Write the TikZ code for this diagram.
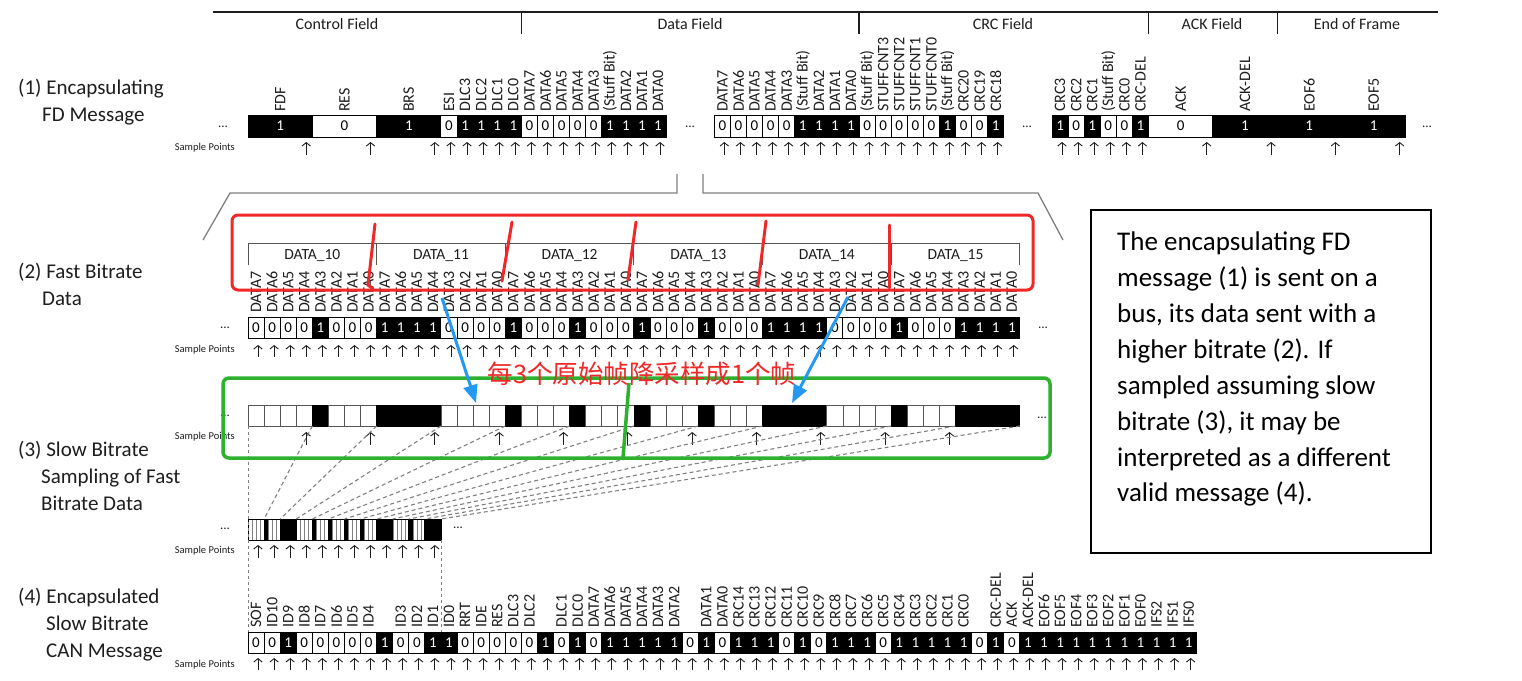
\documentclass[tikz,border=0pt]{standalone}
\usepackage{fontspec}
\setmainfont{Carlito}
\newfontfamily\cjkfont{Noto Sans CJK SC}
\usetikzlibrary{arrows.meta}
\definecolor{redm}{HTML}{F02828}
\definecolor{greenm}{HTML}{2EB12E}
\definecolor{bluem}{HTML}{2399F2}
\definecolor{graym}{HTML}{808080}
\definecolor{inkm}{HTML}{1E1E1E}
\definecolor{cellg}{HTML}{555555}
\tikzset{
  bitcell/.style={draw=black,line width=1pt,inner sep=0pt,outer sep=0pt,anchor=north west,font=\fontsize{15}{15}\selectfont},
  bit0/.style={fill=white,text=black},
  bit1/.style={fill=black,text=white},
  slowcell/.style={line width=0.8pt,inner sep=0pt,outer sep=0pt,anchor=north west,minimum width=16.08pt,minimum height=21pt},
  slow0/.style={fill=white,draw=cellg},
  slow1/.style={fill=black,draw=black},
  sub0/.style={fill=white,draw=graym,line width=0.4pt},
  sub1/.style={fill=black},
  minicell/.style={draw=black,line width=0.9pt,inner sep=0pt,outer sep=0pt,anchor=north west,minimum width=16.08pt,minimum height=21pt},
  vlabel/.style={rotate=90,anchor=west,inner sep=0pt,font=\fontsize{16}{16}\selectfont,text=inkm},
  samp/.style={draw=inkm,line width=0.9pt,-{Straight Barb[length=3.5pt,width=8.5pt]}},
  dots/.style={font=\fontsize{13}{13}\selectfont,text=inkm,inner sep=0pt},
  splabel/.style={font=\fontsize{10.5}{10.5}\selectfont,text=inkm,anchor=east,inner sep=0pt},
  sidelabel/.style={font=\fontsize{21}{21}\selectfont,text=inkm,anchor=base west,inner sep=0pt},
  boxline/.style={font=\fontsize{27}{27}\selectfont,text=black,anchor=base west,inner sep=0pt},
  hdr/.style={font=\fontsize{16}{16}\selectfont,text=inkm,inner sep=0pt},
  bytehdr/.style={font=\fontsize{15.5}{15.5}\selectfont,text=inkm,inner sep=0pt},
  dashlink/.style={draw=graym,line width=1.1pt,dash pattern=on 4pt off 3pt},
  vdash/.style={draw=graym,line width=0.8pt,dash pattern=on 3pt off 3pt},
  zoomline/.style={draw=graym,line width=1.3pt},
  redmark/.style={draw=redm,line width=3pt,line cap=round,line join=round},
  greenmark/.style={draw=greenm,line width=3.5pt},
  bluearrow/.style={draw=bluem,line width=3pt,-{Triangle[length=18pt,width=14pt]}}
}
\begin{document}
\begin{tikzpicture}[x=1pt,y=-1pt]
\useasboundingbox (0,0) rectangle (1522,680);
\fill[white] (0,0) rectangle (1522,680);

% ---------- header ----------
\draw[line width=1.2pt,draw=inkm] (213,12) -- (1438,12);
\foreach \u in {17,38,56,64} \draw[line width=1.2pt,draw=inkm] (248+\u*16.08,12) -- (248+\u*16.08,34);
\node[hdr] (hf1) at (337,24) {Control Field};
\node[hdr] (hf2) at (690,24) {Data Field};
\node[hdr] (hf3) at (1003,24) {CRC Field};
\node[hdr] (hf4) at (1212,24) {ACK Field};
\node[hdr] (hf5) at (1357,24) {End of Frame};

% ---------- side labels ----------
\node[sidelabel] (s1a) at (18,94.5) {(1) Encapsulating};
\node[sidelabel] (s1b) at (42,121.5) {FD Message};
\node[sidelabel] (s2a) at (18,278.5) {(2) Fast Bitrate};
\node[sidelabel] (s2b) at (42,305.5) {Data};
\node[sidelabel] (s3a) at (18,456.5) {(3) Slow Bitrate};
\node[sidelabel] (s3b) at (41,483.5) {Sampling of Fast};
\node[sidelabel] (s3c) at (41,510.5) {Bitrate Data};
\node[sidelabel] (s4a) at (18,603.5) {(4) Encapsulated};
\node[sidelabel] (s4b) at (46,630.5) {Slow Bitrate};
\node[sidelabel] (s4c) at (46,657.5) {CAN Message};

\node[splabel] (sp1) at (235,148) {Sample Points};
\node[splabel] (sp2) at (235,350) {Sample Points};
\node[splabel] (sp3) at (235,437) {Sample Points};
\node[splabel] (sp4) at (235,551) {Sample Points};
\node[splabel] (sp5) at (235,665) {Sample Points};

% ---------- row 1 ----------
\foreach \st/\wu/\bv/\lab [count=\i] in {0/4/1/FDF,4/4/0/RES,8/4/1/BRS,12/1/0/ESI,13/1/1/DLC3,14/1/1/DLC2,15/1/1/DLC1,16/1/1/DLC0,17/1/0/DATA7,18/1/0/DATA6,19/1/0/DATA5,20/1/0/DATA4,21/1/0/DATA3,22/1/1/{(Stuff Bit)},23/1/1/DATA2,24/1/1/DATA1,25/1/1/DATA0,29/1/0/DATA7,30/1/0/DATA6,31/1/0/DATA5,32/1/0/DATA4,33/1/0/DATA3,34/1/1/{(Stuff Bit)},35/1/1/DATA2,36/1/1/DATA1,37/1/1/DATA0,38/1/0/{(Stuff Bit)},39/1/0/STUFFCNT3,40/1/0/STUFFCNT2,41/1/0/STUFFCNT1,42/1/0/STUFFCNT0,43/1/1/{(Stuff Bit)},44/1/0/CRC20,45/1/0/CRC19,46/1/1/CRC18,50/1/1/CRC3,51/1/0/CRC2,52/1/1/CRC1,53/1/0/{(Stuff Bit)},54/1/0/CRC0,55/1/1/CRC-DEL,56/4/0/ACK,60/4/1/ACK-DEL,64/4/1/EOF6,68/4/1/EOF5}{
  \pgfmathsetmacro\xa{248+\st*16.08}
  \pgfmathsetmacro\cw{\wu*16.08}
  \pgfmathsetmacro\xc{\xa+\cw/2}
  \pgfmathsetmacro\xr{\xa+\cw-6.1}
  \node[bitcell,bit\bv,minimum width=\cw pt,minimum height=22pt] (ra\i) at (\xa,115) {\bv};
  \node[vlabel] (la\i) at (\xc,112) {\lab};
  \draw[samp] (\xr,155) -- (\xr,142);
}
\node[dots] (d1) at (223,127) {...};
\node[dots] (d2) at (690,127) {...};
\node[dots] (d3) at (1027,127) {...};
\node[dots] (d4) at (1427,127) {...};

% ---------- zoom bracket ----------
\draw[zoomline] (203,240) -- (230,193) -- (677,193) -- (677,174);
\draw[zoomline] (703,174) -- (703,193) -- (1038,193) -- (1063,240);

% ---------- row 2 ----------
\foreach \k/\nm in {0/DATA\_10,1/DATA\_11,2/DATA\_12,3/DATA\_13,4/DATA\_14,5/DATA\_15}{
  \node[bytehdr] (bh\k) at (248+\k*128.64+64.32,256) {\nm};
}
\draw[line width=1pt,draw=cellg] (248,265) -- (248,243) -- (1019.8,243) -- (1019.8,265);
\foreach \k in {1,...,5} \draw[line width=1pt,draw=cellg] (248+\k*128.64,243) -- (248+\k*128.64,265);
\foreach \bv [count=\i from 0] in {0,0,0,0,1,0,0,0,1,1,1,1,0,0,0,0,1,0,0,0,1,0,0,0,1,0,0,0,1,0,0,0,1,1,1,1,0,0,0,0,1,0,0,0,1,1,1,1}{
  \pgfmathsetmacro\xa{248+\i*16.08}
  \pgfmathtruncatemacro\dn{7-mod(\i,8)}
  \node[bitcell,bit\bv,minimum width=16.08pt,minimum height=21pt] (rb\i) at (\xa,317) {\bv};
  \node[vlabel] (lb\i) at (\xa+8.04,313) {DATA\dn};
  \draw[samp] (\xa+10,357) -- (\xa+10,345);
}
\node[dots] (d5) at (225,328) {...};
\node[dots] (d6) at (1043,328) {...};

% red marks
\draw[redmark,rounded corners=6pt] (232,215) rectangle (1033,290);
\draw[redmark] (375,224) -- (368,285) -- (373,289);
\draw[redmark] (512,222) -- (502,281);
\draw[redmark] (636,222) -- (628,280);
\draw[redmark] (766,221) -- (758,285);
\draw[redmark] (889,225) -- (889,288);

% ---------- row 3 ----------
\foreach \bv [count=\i from 0] in {0,0,0,0,1,0,0,0,1,1,1,1,0,0,0,0,1,0,0,0,1,0,0,0,1,0,0,0,1,0,0,0,1,1,1,1,0,0,0,0,1,0,0,0,1,1,1,1}{
  \node[slowcell,slow\bv] (rc\i) at (248+\i*16.08,405) {};
}
\foreach \k in {1,...,11} \draw[samp] (248+\k*64.32-6.1,445) -- (248+\k*64.32-6.1,432);
\node[dots] (d7) at (225,416) {...};
\node[dots] (d8) at (1042,418) {...};

% ---------- mini row ----------
\foreach \bv [count=\i from 0] in {0,0,0,0,1,0,0,0,1,1,1,1,0,0,0,0,1,0,0,0,1,0,0,0,1,0,0,0,1,0,0,0,1,1,1,1,0,0,0,0,1,0,0,0,1,1,1,1}{
  \path[sub\bv] (248+\i*4.02,519) rectangle (248+\i*4.02+4.02,540);
}
\foreach \k in {0,...,11}{
  \node[minicell] (mc\k) at (248+\k*16.08,519) {};
  \draw[samp] (248+\k*16.08+10,558) -- (248+\k*16.08+10,545);
}
\node[dots] (d9) at (225,529) {...};
\node[dots] (d10) at (458,528) {...};

% dashed links from sample points to slow bits
\foreach \k in {0,...,11}{
  \pgfmathtruncatemacro\j{4*\k+3}
  \draw[dashlink] (rc\j.south east) -- (mc\k.north east);
}

% ---------- row 4 ----------
\foreach \lab/\bv [count=\i from 0] in {SOF/0,ID10/0,ID9/1,ID8/0,ID7/0,ID6/0,ID5/0,ID4/0,{}/1,ID3/0,ID2/0,ID1/1,ID0/1,RRT/0,IDE/0,RES/0,DLC3/0,DLC2/0,{}/1,DLC1/0,DLC0/1,DATA7/0,DATA6/1,DATA5/1,DATA4/1,DATA3/1,DATA2/1,{}/0,DATA1/1,DATA0/0,CRC14/1,CRC13/1,CRC12/1,CRC11/0,CRC10/1,CRC9/0,CRC8/1,CRC7/1,CRC6/1,CRC5/0,CRC4/1,CRC3/1,CRC2/1,CRC1/1,CRC0/1,{}/0,CRC-DEL/1,ACK/0,ACK-DEL/1,EOF6/1,EOF5/1,EOF4/1,EOF3/1,EOF2/1,EOF1/1,EOF0/1,IFS2/1,IFS1/1,IFS0/1}{
  \pgfmathsetmacro\xa{248+\i*16.08}
  \node[bitcell,bit\bv,minimum width=16.08pt,minimum height=21pt] (rd\i) at (\xa,632) {\bv};
  \node[vlabel] (ld\i) at (\xa+8.04,628) {\lab};
  \draw[samp] (\xa+10,670) -- (\xa+10,658);
}
\draw[vdash] (rc0.south west) -- (rd0.north west);
\draw[vdash] (mc11.south east) -- (rd11.north east);

% ---------- green marks ----------
\draw[greenmark,rounded corners=6pt] (223,378) rectangle (1050,458);
\draw[greenmark] (629,383) -- (623,458);

% ---------- blue arrows ----------
\coordinate (bas) at (442,298);
\coordinate (bae) at (476,403);
\coordinate (bbs) at (848,297);
\coordinate (bbe) at (792,403);
\draw[bluearrow] (bas) -- (bae);
\draw[bluearrow] (bbs) -- (bbe);

% ---------- Chinese note ----------
\node[text=redm,inner sep=0pt,font=\cjkfont\fontsize{25.5}{25.5}\selectfont] (cn) at (642,374) {每3个原始帧降采样成1个帧};

% ---------- text box ----------
\draw[line width=1.3pt,draw=black] (1091,210) rectangle (1431,553);
\node[boxline] (tb1) at (1117,250) {The encapsulating FD};
\node[boxline] (tb2) at (1117,286) {message (1) is sent on a};
\node[boxline] (tb3) at (1117,322) {bus, its data sent with a};
\node[boxline] (tb4) at (1117,358) {higher bitrate (2). If};
\node[boxline] (tb5) at (1117,394) {sampled assuming slow};
\node[boxline] (tb6) at (1117,430) {bitrate (3), it may be};
\node[boxline] (tb7) at (1117,466) {interpreted as a different};
\node[boxline] (tb8) at (1117,501) {valid message (4).};
\end{tikzpicture}
\end{document}
